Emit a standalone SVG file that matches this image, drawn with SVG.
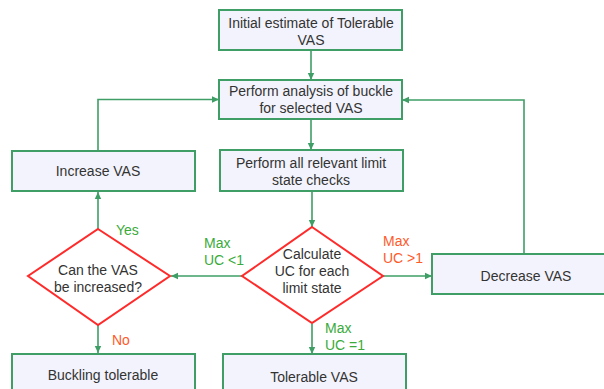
<svg xmlns="http://www.w3.org/2000/svg" width="604" height="389" viewBox="0 0 604 389">
<defs>
<marker id="ah" markerWidth="8" markerHeight="8" refX="7" refY="4" orient="auto" markerUnits="userSpaceOnUse">
<path d="M0,0.8 L7,4 L0,7.2 Z" fill="#3e9e66"/>
</marker>
<style>
.box{fill:#f3f3fd;stroke:#3e9e66;stroke-width:2}
.dia{fill:#ffffff;stroke:#ff2a2a;stroke-width:2}
.t{font-family:"Liberation Sans",Arial,sans-serif;font-size:14px;fill:#333333;text-anchor:middle}
.g{font-family:"Liberation Sans",Arial,sans-serif;font-size:14px;fill:#3aab3a}
.r{font-family:"Liberation Sans",Arial,sans-serif;font-size:14px;fill:#ff5a2a}
.c{fill:none;stroke:#3e9e66;stroke-width:1.6}
</style>
</defs>
<rect width="604" height="389" fill="#ffffff"/>
<g id="connectors">
<line class="c" x1="311" y1="50" x2="311" y2="80" marker-end="url(#ah)"/>
<line class="c" x1="311" y1="119" x2="311" y2="150" marker-end="url(#ah)"/>
<line class="c" x1="312" y1="191" x2="312" y2="227" marker-end="url(#ah)"/>
<line class="c" x1="242" y1="276" x2="171" y2="276" marker-end="url(#ah)"/>
<line class="c" x1="383" y1="276" x2="432" y2="276" marker-end="url(#ah)"/>
<line class="c" x1="312" y1="324" x2="312" y2="354" marker-end="url(#ah)"/>
<line class="c" x1="98" y1="229" x2="98" y2="192" marker-end="url(#ah)"/>
<line class="c" x1="98" y1="325" x2="98" y2="353" marker-end="url(#ah)"/>
<polyline class="c" points="98,151 98,99.5 219,99.5" marker-end="url(#ah)"/>
<polyline class="c" points="524,254 524,100 402,100" marker-end="url(#ah)"/>
<text class="g" x="116" y="235">Yes</text>
<text class="r" x="112" y="345">No</text>
<text class="g" x="204" y="248">Max</text>
<text class="g" x="204" y="265">UC &lt;1</text>
<text class="r" x="383" y="246">Max</text>
<text class="r" x="383" y="263">UC &gt;1</text>
<text class="g" x="325" y="333">Max</text>
<text class="g" x="325" y="350">UC =1</text>
</g>
<g id="initial">
<rect class="box" x="219" y="10" width="183" height="40"/>
<text class="t" x="311" y="28">Initial estimate of Tolerable</text>
<text class="t" x="311" y="45">VAS</text>
</g>
<g id="analysis">
<rect class="box" x="219" y="80" width="183" height="39"/>
<text class="t" x="311" y="96">Perform analysis of buckle</text>
<text class="t" x="311" y="113">for selected VAS</text>
</g>
<g id="checks">
<rect class="box" x="220" y="150" width="183" height="41"/>
<text class="t" x="311" y="168">Perform all relevant limit</text>
<text class="t" x="311" y="185">state checks</text>
</g>
<g id="increase">
<rect class="box" x="12" y="151" width="183" height="40"/>
<text class="t" x="98" y="176">Increase VAS</text>
</g>
<g id="canIncrease">
<polygon class="dia" points="98,229 170,276 98,325 28,276"/>
<text class="t" x="98" y="275">Can the VAS</text>
<text class="t" x="98" y="292">be increased?</text>
</g>
<g id="calculate">
<polygon class="dia" points="312,227 383,276 312,323 242,276"/>
<text class="t" x="312" y="259">Calculate</text>
<text class="t" x="312" y="276">UC for each</text>
<text class="t" x="312" y="293">limit state</text>
</g>
<g id="decrease">
<rect class="box" x="432" y="254" width="188" height="40"/>
<text class="t" x="526" y="281">Decrease VAS</text>
</g>
<g id="buckling">
<rect class="box" x="12" y="354" width="183" height="45"/>
<text class="t" x="103" y="380">Buckling tolerable</text>
</g>
<g id="tolerable">
<rect class="box" x="223" y="354" width="183" height="45"/>
<text class="t" x="314" y="382">Tolerable VAS</text>
</g>
</svg>
